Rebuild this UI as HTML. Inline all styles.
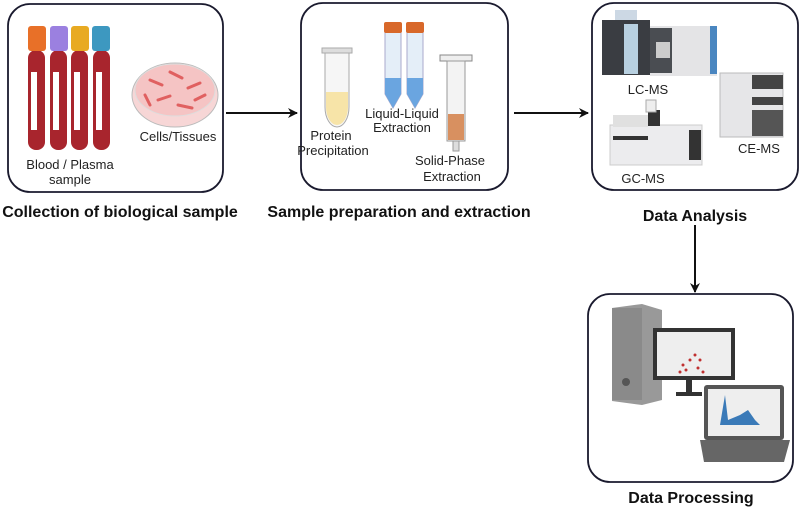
<!DOCTYPE html>
<html><head><meta charset="utf-8"><style>
body{margin:0;background:#fff;width:800px;height:508px;overflow:hidden}
text{font-family:"Liberation Sans",sans-serif}
</style></head><body>
<svg width="800" height="508" viewBox="0 0 800 508" xmlns="http://www.w3.org/2000/svg">
<defs><marker id="ah" markerWidth="10" markerHeight="10" refX="9" refY="5" orient="auto" markerUnits="userSpaceOnUse"><path d="M0,0 L10,5 L0,10 L3,5 Z" fill="#111"/></marker></defs>
<g fill="none" stroke="#1a1a2e" stroke-width="1.8">
<rect x="8" y="4" width="215" height="188" rx="22"/>
<rect x="301" y="3" width="207" height="187" rx="22"/>
<rect x="592" y="3" width="206" height="187" rx="22"/>
<rect x="588" y="294" width="205" height="188" rx="22"/>
</g>
<g stroke="#111" stroke-width="2" marker-end="url(#ah)">
<line x1="226" y1="113" x2="297" y2="113"/>
<line x1="514" y1="113" x2="588" y2="113"/>
<line x1="695" y1="225" x2="695" y2="292"/>
</g>
<g>
<g fill="#a8252d"><rect x="28" y="50" width="17" height="100" rx="8"/><rect x="50" y="50" width="17" height="100" rx="8"/><rect x="71" y="50" width="17" height="100" rx="8"/><rect x="93" y="50" width="17" height="100" rx="8"/></g>
<g fill="#fff"><rect x="31" y="72" width="6" height="58"/><rect x="53" y="72" width="6" height="58"/><rect x="74" y="72" width="6" height="58"/><rect x="96" y="72" width="6" height="58"/></g>
<rect x="28" y="26" width="18" height="25" rx="3" fill="#e87028"/>
<rect x="50" y="26" width="18" height="25" rx="3" fill="#9b80e0"/>
<rect x="71" y="26" width="18" height="25" rx="3" fill="#e8aa22"/>
<rect x="92" y="26" width="18" height="25" rx="3" fill="#3d98c0"/>
</g>
<ellipse cx="175" cy="95" rx="43" ry="32" fill="#f7d6d6" stroke="#bbb"/>
<ellipse cx="175" cy="90" rx="40" ry="26" fill="#f5c4c4" stroke="#ddd"/>
<g stroke="#e06060" stroke-width="3" stroke-linecap="round"><line x1="150" y1="80" x2="162" y2="85"/><line x1="170" y1="72" x2="182" y2="78"/><line x1="188" y1="88" x2="200" y2="83"/><line x1="158" y1="100" x2="170" y2="96"/><line x1="178" y1="105" x2="192" y2="108"/><line x1="145" y1="95" x2="150" y2="105"/><line x1="195" y1="100" x2="205" y2="95"/></g>
<g font-size="13" fill="#222" text-anchor="middle">
<text x="178" y="141">Cells/Tissues</text>
<text x="70" y="169">Blood / Plasma</text><text x="70" y="184">sample</text>
<text x="331" y="140">Protein</text><text x="333" y="155">Precipitation</text>
<text x="402" y="118">Liquid-Liquid</text><text x="402" y="132">Extraction</text>
<text x="450" y="165">Solid-Phase</text><text x="452" y="181">Extraction</text>
<text x="648" y="94">LC-MS</text><text x="759" y="153">CE-MS</text><text x="643" y="183">GC-MS</text>
</g>
<path d="M325,52 h24 v55 a12,20 0 0 1 -24,0 Z" fill="#f6f6f6" stroke="#aaa"/>
<path d="M326,92 h22 v15 a11,18 0 0 1 -22,0 Z" fill="#f7e4a8"/>
<rect x="322" y="48" width="30" height="5" fill="#ddd" stroke="#aaa"/>
<path d="M385,32 h16 v62 l-8,14 l-8,-14 Z" fill="#e4eef8" stroke="#aac"/>
<path d="M385,78 h16 v16 l-8,14 l-8,-14 Z" fill="#6aa5e0"/>
<path d="M407,32 h16 v62 l-8,14 l-8,-14 Z" fill="#e4eef8" stroke="#aac"/>
<path d="M407,78 h16 v16 l-8,14 l-8,-14 Z" fill="#6aa5e0"/>
<rect x="384" y="22" width="18" height="11" rx="2" fill="#d8682a"/><rect x="406" y="22" width="18" height="11" rx="2" fill="#d8682a"/>
<rect x="440" y="55" width="32" height="6" fill="#eee" stroke="#888"/>
<rect x="447" y="61" width="18" height="80" fill="#f3f3f3" stroke="#999"/>
<rect x="448" y="114" width="16" height="26" fill="#d89060"/>
<rect x="453" y="141" width="6" height="10" fill="#ddd" stroke="#999"/>
<rect x="602" y="20" width="48" height="55" fill="#3a3d42"/>
<rect x="624" y="24" width="14" height="50" fill="#b8d0e0"/>
<rect x="650" y="26" width="67" height="50" fill="#e4e4e6"/>
<rect x="650" y="28" width="22" height="45" fill="#4a4d52"/>
<rect x="656" y="42" width="14" height="16" fill="#ccc"/>
<rect x="710" y="26" width="7" height="48" fill="#4a86c0"/>
<rect x="615" y="10" width="22" height="10" fill="#ccd8e4"/>
<rect x="720" y="73" width="63" height="64" fill="#e6e6e8" stroke="#bbb"/>
<rect x="752" y="75" width="31" height="14" fill="#444"/>
<rect x="752" y="97" width="31" height="8" fill="#444"/>
<rect x="752" y="110" width="31" height="26" fill="#555"/>
<rect x="610" y="125" width="92" height="40" fill="#ececee" stroke="#ccc"/>
<rect x="613" y="115" width="35" height="12" fill="#e0e0e0"/>
<rect x="648" y="110" width="12" height="16" fill="#333"/>
<rect x="646" y="100" width="10" height="12" fill="#eee" stroke="#aaa"/>
<rect x="613" y="136" width="35" height="4" fill="#333"/>
<rect x="689" y="130" width="12" height="30" fill="#333"/>
<path d="M612,308 l30,-4 l20,6 v90 l-20,5 l-30,-4 Z" fill="#999"/>
<rect x="612" y="308" width="30" height="92" fill="#8a8a8a"/>
<circle cx="626" cy="382" r="4" fill="#555"/>
<rect x="653" y="328" width="82" height="52" fill="#333"/>
<rect x="657" y="332" width="74" height="44" fill="#eee"/>
<g fill="#c03030"><circle cx="683" cy="365" r="1.5"/><circle cx="690" cy="360" r="1.5"/><circle cx="686" cy="370" r="1.5"/><circle cx="698" cy="368" r="1.5"/><circle cx="700" cy="360" r="1.5"/><circle cx="695" cy="355" r="1.5"/><circle cx="703" cy="372" r="1.5"/><circle cx="680" cy="372" r="1.5"/></g>
<rect x="686" y="380" width="6" height="12" fill="#333"/><rect x="676" y="392" width="26" height="4" fill="#333"/>
<rect x="704" y="385" width="80" height="55" rx="3" fill="#555"/>
<rect x="708" y="389" width="72" height="47" fill="#eee"/>
<path d="M720,425 L725,395 L728,420 L740,415 L748,410 L755,420 L760,425 Z" fill="#3a7ab8"/>
<path d="M700,440 h90 l-6,22 h-80 Z" fill="#666"/>
<g font-size="16" font-weight="bold" fill="#111" text-anchor="middle">
<text x="120" y="217">Collection of biological sample</text>
<text x="399" y="217">Sample preparation and extraction</text>
<text x="695" y="221">Data Analysis</text>
<text x="691" y="503">Data Processing</text>
</g>
</svg>
</body></html>
